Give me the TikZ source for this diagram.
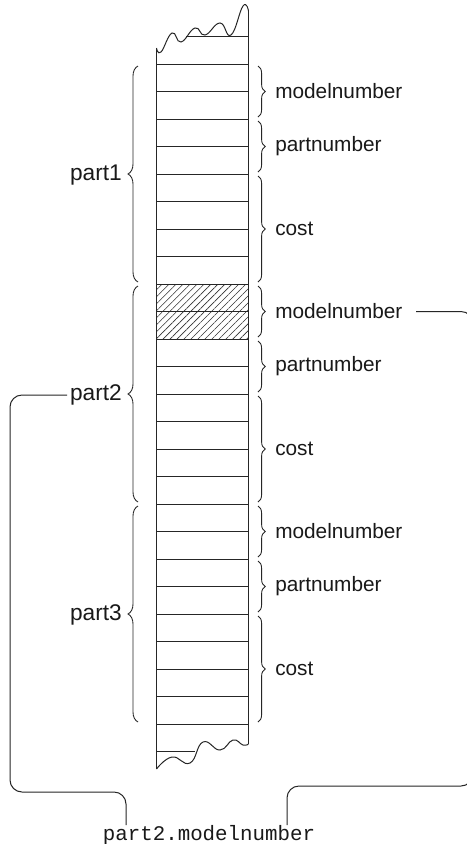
\documentclass[tikz,border=0pt]{standalone}
\usepackage{fontspec}
\setmainfont{Liberation Sans}
\newfontfamily\codefont{Liberation Mono}
\usetikzlibrary{decorations.pathreplacing,patterns.meta,calc}
\begin{document}
\begin{tikzpicture}[x=0.75pt,y=-0.75pt,
  ln/.style={draw=black!85, line width=0.75pt},
  rlbl/.style={font=\fontsize{15.6}{18}\selectfont, inner sep=0pt, anchor=west, text=black!90},
  llbl/.style={font=\fontsize{17}{20}\selectfont, inner sep=0pt, anchor=east, text=black!90},
  rbrace/.style={draw=black!85, line width=0.65pt, decorate, decoration={brace, amplitude=5.4pt}},
  lbrace/.style={draw=black!85, line width=0.65pt, decorate, decoration={brace, amplitude=7.5pt}},
  conn/.style={draw=black!85, line width=0.75pt, rounded corners=9pt},
  hatch/.style={pattern={Lines[angle=45,distance=3.7pt,line width=0.45pt]}, pattern color=black!80}
]
\clip (0,0) rectangle (467,844);
\fill[white] (0,0) rectangle (467,844);
% hatched cells
\fill[hatch] (156,284.5) rectangle (248,339.5);
% cell lines
\foreach \k in {1,...,25} {
  \pgfmathsetmacro{\yy}{floor(36.5+27.5*\k)+0.5}
  \draw[ln] (156,\yy) -- (248,\yy);
}
\draw[ln] (186,36.5) -- (248,36.5);
\draw[ln] (156,751.5) -- (195,751.5);
% verticals
\draw[ln] (156.5,48) -- (156.5,769);
\draw[ln] (248.5,11) -- (248.5,744);
% torn edges
\draw[ln] plot[smooth, tension=0.8] coordinates {(156.5,48) (161,52) (172,33) (181,42) (195,28) (205,35) (220,23) (231,35) (243,6) (248.5,11)};
\draw[ln] plot[smooth, tension=0.8] coordinates {(156.5,769) (172,757) (190,763) (203,742) (220,750) (233,740) (243,745) (248.5,744)};
% labels and braces
\foreach \i in {1,2,3} {
  \pgfmathsetmacro{\b}{64+220*(\i-1)}
  \node[rlbl] (mn\i) at (275,{\b+27.5}) {modelnumber};
  \node[rlbl] (pn\i) at (275,{\b+82.5}) {partnumber};
  \node[rlbl] (c\i) at (275,{\b+165}) {cost};
  \draw[rbrace] (258,{\b+2}) -- (258,{\b+53});
  \draw[rbrace] (258,{\b+57}) -- (258,{\b+108});
  \draw[rbrace] (258,{\b+112}) -- (258,{\b+218});
  \node[llbl] (part\i) at (122,{\b+111}) {part\i};
  \draw[lbrace] (138,{\b+218}) -- (138,{\b+2});
}
% bottom label
\node[font=\codefont\fontsize{15.6}{18}\selectfont, inner sep=0pt, anchor=base, text=black!90] (ref) at (209,840) {part2.modelnumber};
\coordinate (lend) at (126,825);
\coordinate (rend) at (287,825);
\draw[conn] ([xshift=-2pt]part2.west) -| (10,792) -| (lend);
\draw[conn] ([xshift=10pt]mn2.east) -| (473,786) -| (rend);
\end{tikzpicture}
\end{document}
